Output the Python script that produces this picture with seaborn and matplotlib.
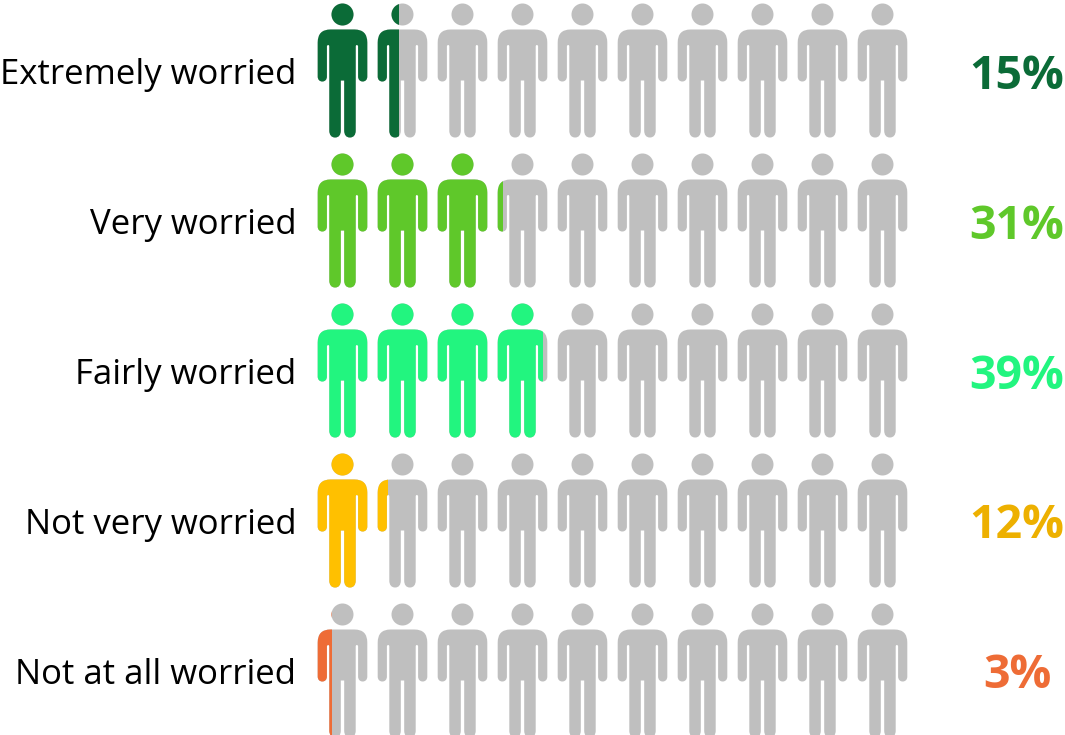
import numpy as np
import pandas as pd
import matplotlib
matplotlib.use("Agg")
import matplotlib.pyplot as plt
from matplotlib.path import Path
from matplotlib.patches import Rectangle
import seaborn as sns

categories = ["Extremely worried", "Very worried", "Fairly worried", "Not very worried", "Not at all worried"]
percents = [15, 31, 39, 12, 3]
# how many figures are coloured
filled_people = [1.43, 3.1, 3.9, 1.2, 0.28]
colors = ["#0B6B37", "#5FC82A", "#22F57F", "#FFC000", "#EE6C36"]
text_colors = ["#0B6B37", "#5FC82A", "#22F57F", "#EDB000", "#EE6C36"]
grey = "#BFBFBF"
n_people = 10

sns.set_theme(style="white")
plt.rcParams["font.family"] = ["Open Sans", "DejaVu Sans"]


def person_marker():
    # right half of the body, top centre to crotch, in pixels around the figure centre
    half = [
        (Path.LINETO, (12, 41)),
        (Path.CURVE3, (24.8, 41)), (Path.CURVE3, (24.8, 28)),
        (Path.LINETO, (24.8, -6)),
        (Path.CURVE4, (24.8, -9)), (Path.CURVE4, (23, -11)), (Path.CURVE4, (20.2, -11)),
        (Path.CURVE4, (17.4, -11)), (Path.CURVE4, (15.6, -9)), (Path.CURVE4, (15.6, -6)),
        (Path.LINETO, (15.6, 24)),
        (Path.CURVE3, (15.6, 25.5)), (Path.CURVE3, (14.3, 25.5)),
        (Path.CURVE3, (13.2, 25.5)), (Path.CURVE3, (13.2, 24)),
        (Path.LINETO, (13.2, -60)),
        (Path.CURVE4, (13.2, -64.5)), (Path.CURVE4, (11, -67)), (Path.CURVE4, (7.4, -67)),
        (Path.CURVE4, (3.8, -67)), (Path.CURVE4, (1.7, -64.5)), (Path.CURVE4, (1.7, -60)),
        (Path.LINETO, (1.7, -10)),
    ]
    verts = [(0, 41)]
    codes = [Path.MOVETO]
    for code, v in half:
        verts.append(v)
        codes.append(code)
    # mirror for the left half, walking back up
    pts = [(-x, y) for x, y in verts[::-1]]
    rev_codes = codes[1:][::-1]
    verts.append(pts[0])
    codes.append(Path.LINETO)
    for code, v in zip(rev_codes, pts[1:]):
        verts.append(v)
        codes.append(code)
    verts.append((0, 41))
    codes.append(Path.CLOSEPOLY)
    body = Path(verts, codes)
    head = Path.circle((0, 56), 11)
    return Path.make_compound_path(head, body)


marker = person_marker()
size = (134 * 72 / 100) ** 2

df = pd.DataFrame(
    [(c, r) for r in range(len(categories)) for c in range(n_people)],
    columns=["person", "row"],
)

fig = plt.figure(figsize=(10.65, 7.35), dpi=100)
ax = fig.add_axes([0, 0, 1, 1])
ax.set_xlim(-341.6 / 60, (1065 - 341.6) / 60)
ax.set_ylim((735 - 70) / 150, -70 / 150)
ax.axis("off")

sns.scatterplot(data=df, x="person", y="row", marker=marker, s=size, color=grey,
                linewidth=0, legend=False, ax=ax, clip_on=False)
ax.collections[-1].set_snap(False)

for r, (fill, col) in enumerate(zip(filled_people, colors)):
    whole = int(fill)
    edge = whole - 25 / 60 + (fill - whole) * 50 / 60
    sub = df[df["row"] == r]
    sns.scatterplot(data=sub, x="person", y="row", marker=marker, s=size, color=col,
                    linewidth=0, legend=False, ax=ax)
    clip = Rectangle((-1, r - 0.5), edge + 1, 1, transform=ax.transData)
    ax.collections[-1].set_clip_path(clip)
    ax.collections[-1].set_snap(False)

for r, (cat, pct, tc) in enumerate(zip(categories, percents, text_colors)):
    ax.text(-45.3 / 60, r + 0.035, cat, ha="right", va="center", fontsize=25, color="black")
    ax.text(675.5 / 60, r + 0.04, f"{pct}%", ha="center", va="center", fontsize=33.5,
            fontweight="bold", color=tc)

fig.savefig("out.png", dpi=100)
